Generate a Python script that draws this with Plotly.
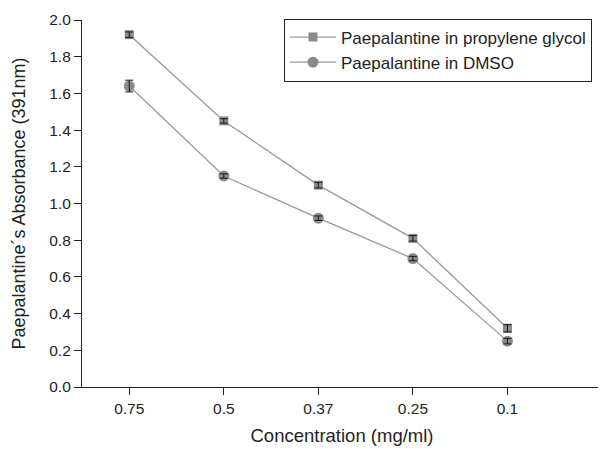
import plotly.graph_objects as go

categories = ["0.75", "0.5", "0.37", "0.25", "0.1"]
pg_values = [1.92, 1.45, 1.10, 0.81, 0.32]
pg_errors = [0.015, 0.012, 0.015, 0.015, 0.02]
dmso_values = [1.64, 1.15, 0.92, 0.70, 0.25]
dmso_errors = [0.032, 0.012, 0.012, 0.012, 0.015]
y_ticks = [0.0, 0.2, 0.4, 0.6, 0.8, 1.0, 1.2, 1.4, 1.6, 1.8, 2.0]

xpos = list(range(1, len(categories) + 1))

fig = go.Figure()
fig.add_trace(go.Scatter(
    x=xpos, y=pg_values, mode="lines+markers",
    name="Paepalantine in propylene glycol",
    line=dict(color="#999999", width=1.3),
    marker=dict(symbol="square", size=9, color="#8a8a8a"),
))
fig.add_trace(go.Scatter(
    x=xpos, y=dmso_values, mode="lines+markers",
    name="Paepalantine in DMSO",
    line=dict(color="#999999", width=1.3),
    marker=dict(symbol="circle", size=11, color="#8a8a8a"),
))
# error bars drawn on top of markers
for vals, errs in ((pg_values, pg_errors), (dmso_values, dmso_errors)):
    fig.add_trace(go.Scatter(
        x=xpos, y=vals, mode="markers", showlegend=False, hoverinfo="skip",
        marker=dict(size=1, opacity=0),
        error_y=dict(type="data", array=errs, visible=True, color="#1a1a1a", thickness=1, width=4),
    ))

font_family = "Liberation Sans, Arial, Helvetica, sans-serif"
# the page body adds an 8px offset; margins compensate for it
fig.update_layout(
    width=606, height=449,
    margin=dict(l=74, r=12, t=12, b=70, autoexpand=False),
    paper_bgcolor="white", plot_bgcolor="white",
    font=dict(family=font_family, size=15.5, color="#222222"),
    showlegend=True,
    legend=dict(
        x=(276 - 74) / 520, y=1.004, xanchor="left", yanchor="top",
        bordercolor="#222222", borderwidth=1, bgcolor="white",
        font=dict(size=17, color="#222222"),
        tracegroupgap=0, itemwidth=46,
    ),
    xaxis=dict(
        range=[0.5, 6], tickmode="array", tickvals=xpos + [6],
        ticktext=categories + [""],
        showline=True, linecolor="#222222", linewidth=1.2,
        ticks="outside", ticklen=7, tickcolor="#222222",
        showgrid=False, zeroline=False, automargin=True,
        title=dict(text="Concentration (mg/ml)", font=dict(size=18.5), standoff=13),
        tickfont=dict(size=15.5),
    ),
    yaxis=dict(
        range=[0, 2.0], tickmode="array", tickvals=y_ticks,
        ticktext=[f"{v:.1f}" for v in y_ticks],
        showline=True, linecolor="#222222", linewidth=1.2,
        ticks="outside", ticklen=7, tickcolor="#222222",
        showgrid=False, zeroline=False, automargin=True,
        title=dict(text="Paepalantine´s Absorbance (391nm)", font=dict(size=18), standoff=18),
        tickfont=dict(size=15.5),
    ),
)

fig.write_html("out.html")
